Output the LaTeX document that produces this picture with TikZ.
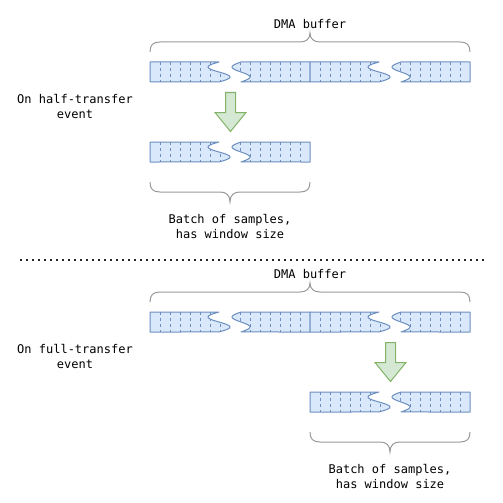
\documentclass[tikz,border=0pt]{standalone}
\usepackage{fontspec}
\setmonofont{DejaVu Sans Mono}
\usepackage{tikz}

\definecolor{bufblue}{HTML}{DAE8FC}
\definecolor{bufedge}{HTML}{6C8EBF}
\definecolor{arrgreen}{HTML}{D5E8D4}
\definecolor{arredge}{HTML}{82B366}
\definecolor{bracegray}{HTML}{999999}

\begin{document}
\begin{tikzpicture}
[
  x=0.75pt, y=-0.75pt,
  buf/.style={draw=bufedge,line width=0.75pt,line join=round},
  bufgrid/.style={bufedge,line width=0.75pt,dash pattern=on 2.25pt off 2.25pt},
  brc/.style={draw=bracegray,line width=0.75pt},
  blockarrow/.style={draw=arredge,fill=arrgreen,line width=0.75pt},
  sep/.style={line width=1.5pt,black!85,dash pattern=on 1.5pt off 3pt},
  lbl/.style={font=\ttfamily\fontsize{9}{11.25}\selectfont,align=center,text=black,inner sep=0pt}
]

\useasboundingbox (0,0) rectangle (503,503);

% buffer segments
\foreach \sx/\sy in {150/62,310/62,150/142,150/312,310/312,310/392}{
  \begin{scope}
    \clip (\sx,\sy) -- (\sx+69,\sy) -- plot[domain=0:1,samples=30] ({\sx+69-11*sin(360*\x)},{\sy+20*\x}) -- (\sx,\sy+20) -- cycle
          (\sx+160,\sy) -- (\sx+91,\sy) -- plot[domain=0:1,samples=30] ({\sx+91-9*sin(360*\x)},{\sy+20*\x}) -- (\sx+160,\sy+20) -- cycle;
    \fill[bufblue] (\sx,\sy) rectangle +(160,20);
    \foreach \k in {1,...,15}
      \draw[bufgrid] (\sx+10*\k,\sy) -- +(0,20);
  \end{scope}
  \draw[buf] (\sx,\sy) -- (\sx+69,\sy) -- plot[domain=0:1,samples=30] ({\sx+69-11*sin(360*\x)},{\sy+20*\x}) -- (\sx,\sy+20) -- cycle
             (\sx+160,\sy) -- (\sx+91,\sy) -- plot[domain=0:1,samples=30] ({\sx+91-9*sin(360*\x)},{\sy+20*\x}) -- (\sx+160,\sy+20) -- cycle;
}

% arrows
\foreach \ax/\ay in {230.5/92.5,390.5/342.5}
  \draw[blockarrow] (\ax-5,\ay) -- (\ax+5,\ay) -- (\ax+5,\ay+20) -- (\ax+15.5,\ay+20) -- (\ax,\ay+39) -- (\ax-15.5,\ay+20) -- (\ax-5,\ay+20) -- cycle;

% braces
\foreach \dy in {0,250}
  \draw[brc] (150,52+\dy) .. controls (150,45+\dy) and (153,42+\dy) .. (160,42+\dy) -- (300,42+\dy)
    .. controls (306,42+\dy) and (310,39+\dy) .. (310,33+\dy) .. controls (310,39+\dy) and (314,42+\dy) .. (320,42+\dy)
    -- (460,42+\dy) .. controls (467,42+\dy) and (470,45+\dy) .. (470,52+\dy);

\foreach \dx/\dy in {0/0,160/250}
  \draw[brc] (150+\dx,182+\dy) .. controls (150+\dx,189+\dy) and (153+\dx,192+\dy) .. (160+\dx,192+\dy) -- (220+\dx,192+\dy)
    .. controls (226+\dx,192+\dy) and (230+\dx,195+\dy) .. (230+\dx,202+\dy) .. controls (230+\dx,195+\dy) and (234+\dx,192+\dy) .. (240+\dx,192+\dy)
    -- (300+\dx,192+\dy) .. controls (307+\dx,192+\dy) and (310+\dx,189+\dy) .. (310+\dx,182+\dy);

% labels
\node[lbl] (dma1) at (310,24) {DMA buffer};
\node[lbl] (ev1) at (75,106.5) {On half-transfer\\event};
\node[lbl] (batch1) at (230,226.5) {Batch of samples,\\has window size};

\node[lbl] (dma2) at (310,274) {DMA buffer};
\node[lbl] (ev2) at (75,356.5) {On full-transfer\\event};
\node[lbl] (batch2) at (390,476.5) {Batch of samples,\\has window size};

% separator
\draw[sep] (20,260) -- (487,260);

\end{tikzpicture}
\end{document}
